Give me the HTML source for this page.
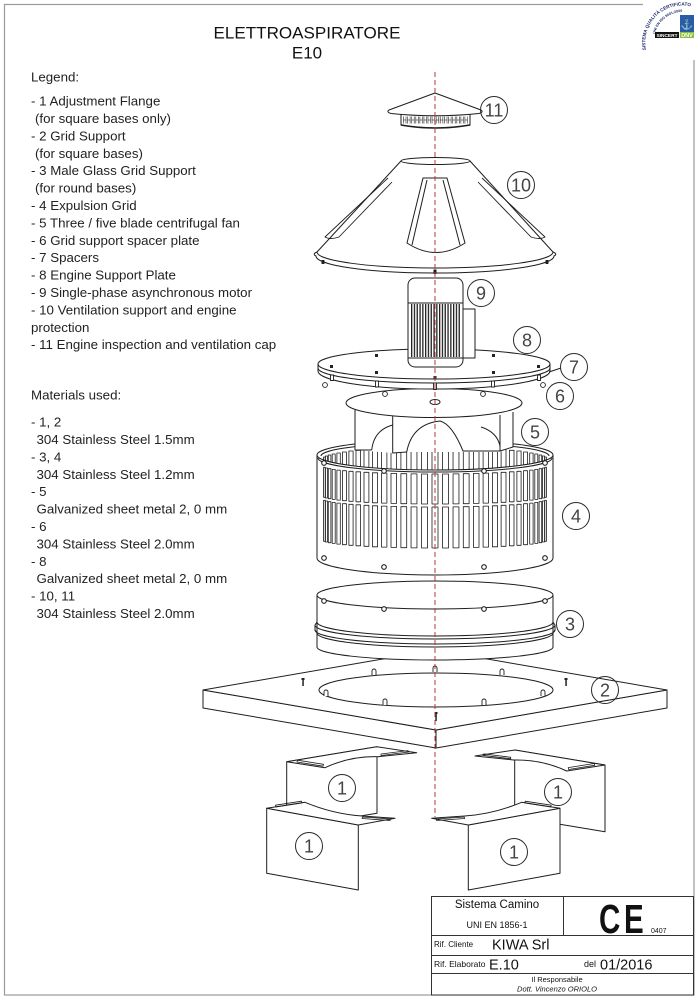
<!DOCTYPE html>
<html><head><meta charset="utf-8"><style>
html,body{margin:0;padding:0;background:#fff;}
svg{display:block;}
</style></head><body>
<svg width="698" height="1000" viewBox="0 0 698 1000" xmlns="http://www.w3.org/2000/svg" font-family="'Liberation Sans', Arial, sans-serif">
<defs>
<pattern id="fins" x="411" y="0" width="2.8" height="10" patternUnits="userSpaceOnUse">
<rect x="0" y="0" width="1.3" height="10" fill="#222"/>
</pattern>
<pattern id="grill" x="403" y="0" width="4.1" height="20" patternUnits="userSpaceOnUse">
<rect x="0.4" y="0" width="2.6" height="20" fill="none" stroke="#222" stroke-width="0.6"/>
</pattern>
</defs>
<rect width="698" height="1000" fill="#fff"/>
<rect x="4.5" y="4.5" width="689.5" height="990.5" fill="none" stroke="#9a9a9a" stroke-width="1.2"/>

<!-- Title -->
<text x="307" y="38.5" font-size="17" text-anchor="middle" fill="#111" textLength="187" lengthAdjust="spacingAndGlyphs">ELETTROASPIRATORE</text>
<text x="307" y="58.5" font-size="17" text-anchor="middle" fill="#111">E10</text>

<!-- Legend -->
<g font-size="13.3" fill="#222">
<text x="31" y="81.6">Legend:</text>
<text x="31" y="105.6">- 1 Adjustment Flange</text>
<text x="35" y="123">(for square bases only)</text>
<text x="31" y="140.4">- 2 Grid Support</text>
<text x="35" y="157.8">(for square bases)</text>
<text x="31" y="175.2">- 3 Male Glass Grid Support</text>
<text x="35" y="192.6">(for round bases)</text>
<text x="31" y="210">- 4 Expulsion Grid</text>
<text x="31" y="227.4">- 5 Three / five blade centrifugal fan</text>
<text x="31" y="244.8">- 6 Grid support spacer plate</text>
<text x="31" y="262.2">- 7 Spacers</text>
<text x="31" y="279.6">- 8 Engine Support Plate</text>
<text x="31" y="297">- 9 Single-phase asynchronous motor</text>
<text x="31" y="314.4">- 10 Ventilation support and engine</text>
<text x="31" y="331.8">protection</text>
<text x="31" y="349.2">- 11 Engine inspection and ventilation cap</text>

<text x="31" y="399.6">Materials used:</text>
<text x="31" y="426.6">- 1, 2</text>
<text x="36.5" y="444">304 Stainless Steel 1.5mm</text>
<text x="31" y="461.4">- 3, 4</text>
<text x="36.5" y="478.8">304 Stainless Steel 1.2mm</text>
<text x="31" y="496.2">- 5</text>
<text x="36.5" y="513.6">Galvanized sheet metal 2, 0 mm</text>
<text x="31" y="531">- 6</text>
<text x="36.5" y="548.4">304 Stainless Steel 2.0mm</text>
<text x="31" y="565.8">- 8</text>
<text x="36.5" y="583.2">Galvanized sheet metal 2, 0 mm</text>
<text x="31" y="600.6">- 10, 11</text>
<text x="36.5" y="618">304 Stainless Steel 2.0mm</text>
</g>

<!-- DRAWING -->
<g stroke="#1e1e1e" stroke-width="1" fill="none" stroke-linejoin="round">

<!-- Part 11 cap -->
<path d="M401,114 L401,125 Q435,131 470,125 L470,114 Z" fill="#fff"/>
<rect x="403" y="116.5" width="65" height="7" fill="url(#grill)" stroke="none"/>
<path d="M389,110 L435,93 L481,110 Q484,112 479,113.5 Q435,118 391,113.5 Q386,112 389,110 Z" fill="#fff"/>
<path d="M401,125 Q435,131 470,125" stroke-width="1.6"/>

<!-- Part 10 cone -->
<path d="M401,161 L317,252 A118,16 0 0 0 553,252 L470,161 Z" fill="#fff"/>
<path d="M317,252 Q312,254 316,256 A119,17 0 0 0 554,256 Q558,254 553,252"/>
<ellipse cx="435.5" cy="161" rx="34.5" ry="3.5" fill="#fff"/>
<path d="M388,178 L325,237 Q330,240 339,237 L392,182" stroke-width="0.9"/>
<path d="M482,178 L545,237 Q540,240 531,237 L478,182" stroke-width="0.9"/>
<path d="M423,178 L447,178 L465,243 Q436,262 407,243 Z" fill="#fff"/>
<path d="M427,180 L412,245 M443,180 L460,245"/>
<rect x="322" y="260.5" width="2" height="3" fill="#222"/>
<rect x="546" y="260.5" width="2" height="3" fill="#222"/>
<rect x="434" y="270" width="2" height="3.5" fill="#222"/>

<!-- Part 4 grid back -->
<path d="M317,455 A118,15 0 0 1 553,455"/>
<path d="M321,456 A114,13 0 0 1 549,456"/>
<g stroke-width="0.8">
<rect x="323.6" y="457" width="1.6" height="25"/>
<rect x="325.45" y="456" width="2.1" height="25"/>
<rect x="328.3" y="455" width="2.6" height="25"/>
<rect x="332.2" y="454" width="3" height="25"/>
<rect x="336.9" y="453" width="3.4" height="25"/>
<rect x="342.5" y="452" width="3.9" height="25"/>
<rect x="348.9" y="451" width="4.2" height="25"/>
<rect x="356" y="450.3" width="4.6" height="25"/>
<rect x="364" y="449.5" width="4.9" height="25"/>
<rect x="372.4" y="449" width="5.2" height="25"/>
<rect x="381.5" y="448.3" width="5.4" height="25"/>
<rect x="391" y="447.8" width="5.6" height="25"/>
<rect x="400.9" y="447.5" width="5.8" height="25"/>
<rect x="411.05" y="447.2" width="5.9" height="25"/>
<rect x="421.5" y="447" width="6" height="25"/>
<rect x="432" y="447" width="6" height="25"/>
<rect x="442.5" y="447" width="6" height="25"/>
<rect x="453.05" y="447.2" width="5.9" height="25"/>
<rect x="463.3" y="447.5" width="5.8" height="25"/>
<rect x="473.4" y="447.8" width="5.6" height="25"/>
<rect x="483.1" y="448.3" width="5.4" height="25"/>
<rect x="492.4" y="449" width="5.2" height="25"/>
<rect x="501.1" y="449.5" width="4.9" height="25"/>
<rect x="509.4" y="450.3" width="4.6" height="25"/>
<rect x="516.9" y="451" width="4.2" height="25"/>
<rect x="523.6" y="452" width="3.9" height="25"/>
<rect x="529.7" y="453" width="3.4" height="25"/>
<rect x="534.8" y="454" width="3" height="25"/>
<rect x="539.1" y="455" width="2.6" height="25"/>
<rect x="542.45" y="456" width="2.1" height="25"/>
<rect x="544.8" y="457" width="1.6" height="25"/>
</g>

<!-- Part 5 fan -->
<path d="M355,406 L355,450 L393,453 L407,452 L463,452 L500,452 L513,447 L513,406 Z" fill="#fff" stroke="none"/>
<path d="M355,410 L355,450 L371.7,450"/>
<path d="M371.7,450 Q374,430 392.7,425"/>
<path d="M392.7,415 L392.7,453 L406.7,452"/>
<path d="M406.7,452 Q412,424 440,421 Q452,424 463,451 L500,451"/>
<path d="M500,415 L500,451 L513,447 L513,412"/>
<path d="M481,427 Q497,432 500,446"/>
<ellipse cx="434" cy="403" rx="88" ry="14.5" fill="#fff"/>
<ellipse cx="435" cy="402" rx="5" ry="2.5"/>

<!-- Part 4 grid front -->
<path d="M317,455 A118,15 0 0 0 553,455 L553,558 A118,17 0 0 1 317,558 Z" fill="#fff"/>
<path d="M318,458 A117,14 0 0 0 552,458"/>
<g stroke-width="0.8">
<rect x="323.6" y="467.3" width="1.6" height="30"/><rect x="323.6" y="500.3" width="1.6" height="41"/>
<rect x="325.45" y="468" width="2.1" height="30"/><rect x="325.45" y="501" width="2.1" height="41"/>
<rect x="328.3" y="468.7" width="2.6" height="30"/><rect x="328.3" y="501.7" width="2.6" height="41"/>
<rect x="332.2" y="469.4" width="3" height="30"/><rect x="332.2" y="502.4" width="3" height="41"/>
<rect x="336.9" y="470.1" width="3.4" height="30"/><rect x="336.9" y="503.1" width="3.4" height="41"/>
<rect x="342.5" y="470.7" width="3.9" height="30"/><rect x="342.5" y="503.7" width="3.9" height="41"/>
<rect x="348.9" y="471.3" width="4.2" height="30"/><rect x="348.9" y="504.3" width="4.2" height="41"/>
<rect x="356" y="471.8" width="4.6" height="30"/><rect x="356" y="504.8" width="4.6" height="41"/>
<rect x="364" y="472.3" width="4.9" height="30"/><rect x="364" y="505.3" width="4.9" height="41"/>
<rect x="372.4" y="472.8" width="5.2" height="30"/><rect x="372.4" y="505.8" width="5.2" height="41"/>
<rect x="381.5" y="473.1" width="5.4" height="30"/><rect x="381.5" y="506.1" width="5.4" height="41"/>
<rect x="391" y="473.4" width="5.6" height="30"/><rect x="391" y="506.4" width="5.6" height="41"/>
<rect x="400.9" y="473.7" width="5.8" height="30"/><rect x="400.9" y="506.7" width="5.8" height="41"/>
<rect x="411.05" y="473.9" width="5.9" height="30"/><rect x="411.05" y="506.9" width="5.9" height="41"/>
<rect x="421.5" y="474" width="6" height="30"/><rect x="421.5" y="507" width="6" height="41"/>
<rect x="432" y="474" width="6" height="30"/><rect x="432" y="507" width="6" height="41"/>
<rect x="442.5" y="474" width="6" height="30"/><rect x="442.5" y="507" width="6" height="41"/>
<rect x="453.05" y="473.9" width="5.9" height="30"/><rect x="453.05" y="506.9" width="5.9" height="41"/>
<rect x="463.3" y="473.7" width="5.8" height="30"/><rect x="463.3" y="506.7" width="5.8" height="41"/>
<rect x="473.4" y="473.4" width="5.6" height="30"/><rect x="473.4" y="506.4" width="5.6" height="41"/>
<rect x="483.1" y="473.1" width="5.4" height="30"/><rect x="483.1" y="506.1" width="5.4" height="41"/>
<rect x="492.4" y="472.8" width="5.2" height="30"/><rect x="492.4" y="505.8" width="5.2" height="41"/>
<rect x="501.1" y="472.3" width="4.9" height="30"/><rect x="501.1" y="505.3" width="4.9" height="41"/>
<rect x="509.4" y="471.8" width="4.6" height="30"/><rect x="509.4" y="504.8" width="4.6" height="41"/>
<rect x="516.9" y="471.3" width="4.2" height="30"/><rect x="516.9" y="504.3" width="4.2" height="41"/>
<rect x="523.6" y="470.7" width="3.9" height="30"/><rect x="523.6" y="503.7" width="3.9" height="41"/>
<rect x="529.7" y="470.1" width="3.4" height="30"/><rect x="529.7" y="503.1" width="3.4" height="41"/>
<rect x="534.8" y="469.4" width="3" height="30"/><rect x="534.8" y="502.4" width="3" height="41"/>
<rect x="539.1" y="468.7" width="2.6" height="30"/><rect x="539.1" y="501.7" width="2.6" height="41"/>
<rect x="542.45" y="468" width="2.1" height="30"/><rect x="542.45" y="501" width="2.1" height="41"/>
<rect x="544.8" y="467.3" width="1.6" height="30"/><rect x="544.8" y="500.3" width="1.6" height="41"/>
</g>
<g fill="#fff" stroke-width="1.1">
<circle cx="324" cy="463" r="2.3"/><circle cx="384" cy="471" r="2.3"/><circle cx="484" cy="471" r="2.3"/><circle cx="545" cy="463" r="2.3"/>
<circle cx="324" cy="558" r="2.3"/><circle cx="384" cy="567" r="2.3"/><circle cx="484" cy="567" r="2.3"/><circle cx="545" cy="558" r="2.3"/>
</g>

<!-- Part 6 / 7 / 8 plates -->
<path d="M318,366 L318,371 A116,18 0 0 0 550,371 L550,366" fill="#fff"/>
<path d="M318,364 L318,368 A116,15 0 0 0 550,368 L550,364" fill="#fff"/>
<ellipse cx="434" cy="364" rx="116" ry="15" fill="#fff"/>
<g fill="#fff" stroke-width="0.9">
<rect x="330.5" y="375" width="3" height="5.5"/>
<rect x="375.5" y="381" width="3" height="6"/>
<rect x="433.5" y="383" width="3" height="6.5"/>
<rect x="491.5" y="381" width="3" height="6"/>
<rect x="537.5" y="375" width="3" height="5.5"/>
<circle cx="325" cy="385" r="2.4"/><circle cx="385" cy="394" r="2.4"/><circle cx="483" cy="394" r="2.4"/><circle cx="543" cy="385" r="2.4"/>
</g>
<g fill="#222" stroke="none">
<rect x="330" y="365" width="3" height="3"/><rect x="375" y="354" width="3" height="3"/><rect x="492" y="354" width="3" height="3"/><rect x="537" y="365" width="3" height="3"/>
<rect x="375" y="371" width="3" height="3"/><rect x="492" y="371" width="3" height="3"/><rect x="433.5" y="376" width="3" height="3"/>
</g>
<line x1="549" y1="372" x2="561" y2="368"/>

<!-- Part 9 motor -->
<rect x="408" y="278" width="55" height="89" rx="7" fill="#fff"/>
<line x1="408" y1="303" x2="463" y2="303"/>
<line x1="408" y1="358" x2="463" y2="358"/>
<rect x="411" y="304" width="49" height="53" fill="url(#fins)" stroke="none"/>
<rect x="463" y="309" width="12" height="49" fill="#fff"/>

<!-- Part 2 base -->
<path d="M203,690 L203,708 L436,748 L667,708 L667,690 L436,730 Z" fill="#fff"/>
<path d="M203,690 L435,650 L667,690 L436,730 Z" fill="#fff"/>
<line x1="436" y1="730" x2="436" y2="748"/>
<ellipse cx="436" cy="690" rx="117" ry="17"/>
<g fill="#fff" stroke-width="0.9">
<path d="M324,696 v-4 a2,2 0 0 1 4,0 v4"/>
<path d="M372,675 v-4 a2,2 0 0 1 4,0 v4"/>
<path d="M433,672 v-4 a2,2 0 0 1 4,0 v4"/>
<path d="M500,675 v-4 a2,2 0 0 1 4,0 v4"/>
<path d="M541,696 v-4 a2,2 0 0 1 4,0 v4"/>
<path d="M383,705 v-4 a2,2 0 0 1 4,0 v4"/>
<path d="M482,705 v-4 a2,2 0 0 1 4,0 v4"/>
</g>
<g fill="#222" stroke="none">
<rect x="301.5" y="678" width="3" height="2"/><rect x="302.3" y="680" width="1.5" height="6"/>
<rect x="564.5" y="678" width="3" height="2"/><rect x="565.3" y="680" width="1.5" height="6"/>
<rect x="434.5" y="712" width="3" height="2"/><rect x="435.3" y="714" width="1.5" height="7"/>
</g>

<!-- Part 3 ring -->
<path d="M317,595 L317,647 A118,13 0 0 0 553,647 L553,595" fill="#fff"/>
<ellipse cx="435" cy="595" rx="118" ry="14" fill="#fff"/>
<path d="M317,622 A118,14 0 0 0 553,622"/>
<path d="M317,622 L315,625 L315,630 L317,633 M553,622 L555,625 L555,630 L553,633"/>
<path d="M315,625 A120,14 0 0 0 555,625"/>
<path d="M315,630 A120,14 0 0 0 555,630"/>
<path d="M317,633 A118,14 0 0 0 553,633"/>
<g fill="#fff" stroke-width="1.1">
<circle cx="324" cy="601" r="2.3"/><circle cx="384" cy="609" r="2.3"/><circle cx="484" cy="609" r="2.3"/><circle cx="545" cy="601" r="2.3"/>
</g>

<!-- Part 1 brackets (back) -->
<path d="M286.7,761.7 L377,746.7 L377,813.3 L286.7,828.3 Z" fill="#fff"/>
<path d="M286.7,761.7 L376.7,746.7 L416.7,752.7 L378,756.7 Q350,756 325,767.7 Z" fill="#fff"/>
<path d="M297,762 L323,766.2 L323.5,764.3 L297.5,760.2 Z" stroke-width="0.8"/>
<path d="M381,755.5 L409,752 L408,750.6 L381,754 Z" stroke-width="0.8"/>

<path d="M605,765 L514.7,750 L514.7,816.7 L605,831.7 Z" fill="#fff"/>
<path d="M605,765 L515,750 L475,756 L513.7,760 Q541.7,759.3 566.7,771 Z" fill="#fff"/>
<path d="M594.7,765.3 L568.7,769.5 L568.2,767.6 L594.2,763.5 Z" stroke-width="0.8"/>
<path d="M510.7,758.8 L482.7,755.3 L483.7,753.9 L510.7,757.3 Z" stroke-width="0.8"/>

<!-- Part 1 brackets (front) -->
<path d="M266.7,808.3 L358.3,825 L358.3,890 L266.7,873.3 Z" fill="#fff"/>
<path d="M266.7,808.3 L305,802.3 Q333,814 362,816 L395,818.3 L358.3,825 Z" fill="#fff"/>
<path d="M276,807 L302,803 L301.5,801.2 L275.5,805.2 Z" stroke-width="0.8"/>
<path d="M362,818.5 L390,820.5 L390.5,819 L362.5,817 Z" stroke-width="0.8"/>

<path d="M560,808.3 L468.3,825 L468.3,890 L560,873.3 Z" fill="#fff"/>
<path d="M560,808.3 L521.7,802.3 Q493.7,814 464.7,816 L431.7,818.3 L468.3,825 Z" fill="#fff"/>
<path d="M550.7,807 L524.7,803 L525.2,801.2 L551.2,805.2 Z" stroke-width="0.8"/>
<path d="M464.7,818.5 L436.7,820.5 L436.2,819 L464.2,817 Z" stroke-width="0.8"/>

<!-- centerline -->
<line x1="435" y1="72" x2="435" y2="817" stroke="#b23a3a" stroke-width="1" stroke-dasharray="5,3"/>

<!-- Label circles -->
<g stroke="#2a2a2a" stroke-width="1">
<circle cx="494" cy="110" r="13.5"/>
<circle cx="521" cy="185" r="13.5"/>
<circle cx="481" cy="293" r="13.5"/>
<circle cx="527" cy="340" r="13.5"/>
<circle cx="574" cy="367" r="13.5"/>
<circle cx="560" cy="396" r="13.5"/>
<circle cx="535" cy="432" r="13.5"/>
<circle cx="576" cy="516" r="13.5"/>
<circle cx="570" cy="624" r="13.5"/>
<circle cx="605" cy="690" r="13.5"/>
<circle cx="342" cy="788" r="13.5"/>
<circle cx="309" cy="846" r="13.5"/>
<circle cx="558" cy="792" r="13.5"/>
<circle cx="514" cy="852" r="13.5"/>
</g>
</g>
<g font-size="18" fill="#444" text-anchor="middle">
<text x="494" y="116.5">11</text>
<text x="521" y="191.5">10</text>
<text x="481" y="299.5">9</text>
<text x="527" y="346.5">8</text>
<text x="574" y="373.5">7</text>
<text x="560" y="402.5">6</text>
<text x="535" y="438.5">5</text>
<text x="576" y="522.5">4</text>
<text x="570" y="630.5">3</text>
<text x="605" y="696.5">2</text>
<text x="342" y="794.5">1</text>
<text x="309" y="852.5">1</text>
<text x="558" y="798.5">1</text>
<text x="514" y="858.5">1</text>
</g>

<!-- Logo -->
<g>
<rect x="643" y="0" width="55" height="60" fill="#fff"/>
<path id="arcA" d="M646,50 A37,37 0 0 1 698,9" fill="none"/>
<text font-size="4.6" fill="#1b2a6b" font-weight="bold"><textPath href="#arcA">SISTEMA QUALITÀ CERTIFICATO</textPath></text>
<path id="arcB" d="M655,34 A29,29 0 0 1 694,14" fill="none"/>
<text font-size="3.6" fill="#1b2a6b" font-weight="bold"><textPath href="#arcB">UNI EN ISO 9001:2000</textPath></text>
<rect x="680" y="15" width="14" height="17" fill="#2b5ca6"/>
<text x="687" y="28" font-size="10" fill="#fff" text-anchor="middle">⚓</text>
<rect x="680" y="32" width="14" height="6" fill="#8dbf3e"/>
<text x="687" y="37.2" font-size="5.5" fill="#fff" text-anchor="middle" font-weight="bold">DNV</text>
<rect x="655" y="32" width="24" height="6" fill="#111"/>
<text x="667" y="37" font-size="4.8" fill="#fff" text-anchor="middle" font-weight="bold">SINCERT</text>
</g>

<!-- Title block -->
<g stroke="#333" stroke-width="1" fill="none">
<rect x="431.5" y="896.5" width="262" height="98.5" fill="#fff"/>
<line x1="431.5" y1="935.5" x2="693.5" y2="935.5"/>
<line x1="431.5" y1="955.5" x2="693.5" y2="955.5"/>
<line x1="431.5" y1="973.5" x2="693.5" y2="973.5"/>
<line x1="563.5" y1="896.5" x2="563.5" y2="935.5"/>
</g>
<g fill="#111">
<text x="497" y="908" font-size="11.5" text-anchor="middle">Sistema Camino</text>
<text x="497" y="928" font-size="9" text-anchor="middle">UNI EN 1856-1</text>
<text x="599" y="933" font-size="41" font-weight="bold" transform="translate(599,933) scale(0.72,1) translate(-599,-933)">C</text>
<text x="624" y="933" font-size="41" font-weight="bold" transform="translate(624,933) scale(0.72,1) translate(-624,-933)">E</text>
<text x="651" y="933" font-size="7">0407</text>
<text x="434" y="947" font-size="8">Rif. Cliente</text>
<text x="492" y="949.5" font-size="14.5">KIWA Srl</text>
<text x="434" y="967" font-size="8.5">Rif. Elaborato</text>
<text x="489" y="969.5" font-size="14.5">E.10</text>
<text x="584" y="967" font-size="9">del</text>
<text x="600" y="969.5" font-size="14.5">01/2016</text>
<text x="557" y="982" font-size="7.5" text-anchor="middle">Il Responsabile</text>
<text x="557" y="991.5" font-size="7.5" font-style="italic" text-anchor="middle">Dott. Vincenzo ORIOLO</text>
</g>
</svg>
</body></html>
